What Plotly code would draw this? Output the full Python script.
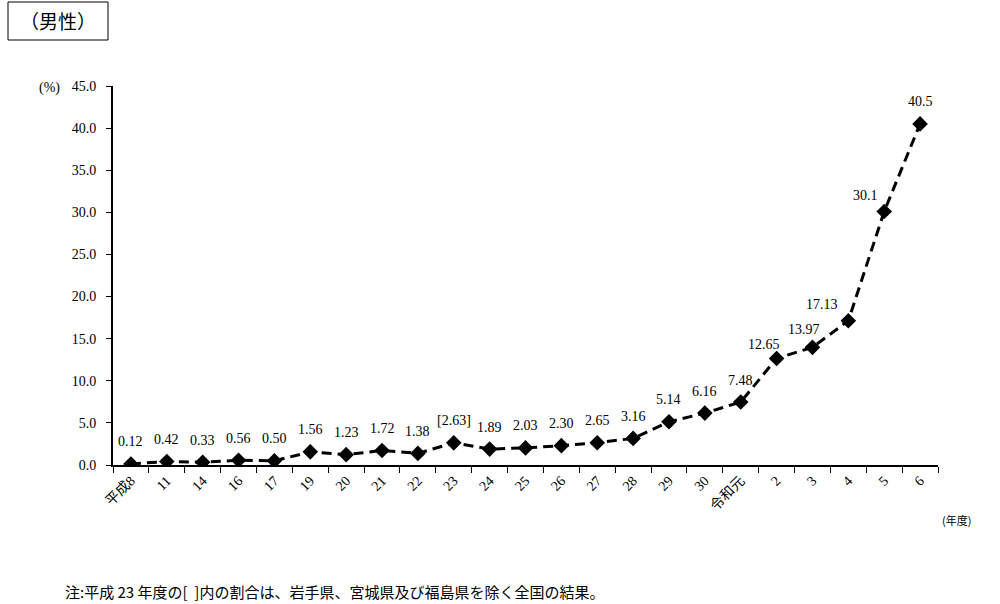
import plotly.graph_objects as go

categories = ["平成8", "11", "14", "16", "17", "19", "20", "21", "22", "23", "24", "25",
              "26", "27", "28", "29", "30", "令和元", "2", "3", "4", "5", "6"]
values = [0.12, 0.42, 0.33, 0.56, 0.50, 1.56, 1.23, 1.72, 1.38, 2.63, 1.89, 2.03,
          2.30, 2.65, 3.16, 5.14, 6.16, 7.48, 12.65, 13.97, 17.13, 30.1, 40.5]
labels = ["0.12", "0.42", "0.33", "0.56", "0.50", "1.56", "1.23", "1.72", "1.38", "[2.63]",
          "1.89", "2.03", "2.30", "2.65", "3.16", "5.14", "6.16", "7.48", "12.65", "13.97",
          "17.13", "30.1", "40.5"]
y_ticks = [0, 5, 10, 15, 20, 25, 30, 35, 40, 45]

# label offsets (pixels) for placement around markers
label_dx = {"12.65": -13, "13.97": -8, "17.13": -26, "30.1": -19}
label_dy = {"12.65": 14, "13.97": 18, "17.13": 16, "30.1": 16}

SERIF = "Liberation Serif, Noto Sans CJK JP, serif"
JP = "Noto Sans CJK JP, sans-serif"

L, R, T, B = 113, 62, 86, 139
W, H = 1000, 604
pw, ph = W - L - R, H - T - B


def px(x):
    return (x - L) / pw


def py(y):
    return (H - B - y) / ph


fig = go.Figure()
fig.add_trace(go.Scatter(
    x=categories, y=values, mode="lines+markers",
    line=dict(color="black", width=3, dash="10px,6px"),
    marker=dict(symbol="diamond", size=12, color="black"),
    showlegend=False, hoverinfo="skip",
))

annotations = []
for i, (v, t) in enumerate(zip(values, labels)):
    annotations.append(dict(
        x=i, y=v, xref="x", yref="y", text=t, showarrow=False,
        xshift=label_dx.get(t, 0), yshift=label_dy.get(t, 22),
        font=dict(family=SERIF, size=14, color="black"),
        xanchor="center", yanchor="middle",
    ))

annotations += [
    dict(x=px(58), y=py(21), xref="paper", yref="paper", text="（男性）", showarrow=False,
         font=dict(family=JP, size=19, color="black"), xanchor="center", yanchor="middle"),
    dict(x=px(49), y=py(88), xref="paper", yref="paper", text="(%)", showarrow=False,
         font=dict(family=SERIF, size=14, color="black"),
         xanchor="center", yanchor="middle"),
    dict(x=px(957), y=py(520), xref="paper", yref="paper", text="(年度)", showarrow=False,
         font=dict(family=JP, size=11, color="black"), xanchor="center", yanchor="middle"),
    dict(x=px(63), y=py(591), xref="paper", yref="paper",
         text="注:平成 23 年度の[  ]内の割合は、岩手県、宮城県及び福島県を除く全国の結果。",
         showarrow=False, font=dict(family=JP, size=15, color="black"),
         xanchor="left", yanchor="middle"),
]

fig.update_layout(
    width=W, height=H,
    margin=dict(l=L, r=R, t=T, b=B),
    paper_bgcolor="white", plot_bgcolor="white",
    annotations=annotations,
    shapes=[dict(type="rect", xref="paper", yref="paper",
                 x0=px(8), x1=px(108), y0=py(40), y1=py(2),
                 line=dict(color="black", width=1))],
    xaxis=dict(
        type="category", range=[-0.5, len(categories) - 0.5],
        showline=True, linecolor="black", linewidth=2,
        ticks="outside", tickson="boundaries", ticklen=6, tickcolor="black", tickwidth=1,
        tickangle=-45, showgrid=False, zeroline=False,
        tickfont=dict(family=SERIF, size=14, color="black"),
    ),
    yaxis=dict(
        range=[0, 45], tickvals=y_ticks, tickformat=".1f",
        showline=True, linecolor="black", linewidth=2,
        ticks="outside", ticklen=5, tickcolor="black", tickwidth=1,
        ticklabelstandoff=7,
        showgrid=False, zeroline=False,
        tickfont=dict(family=SERIF, size=14, color="black"),
    ),
)

fig.write_html("out.html")
